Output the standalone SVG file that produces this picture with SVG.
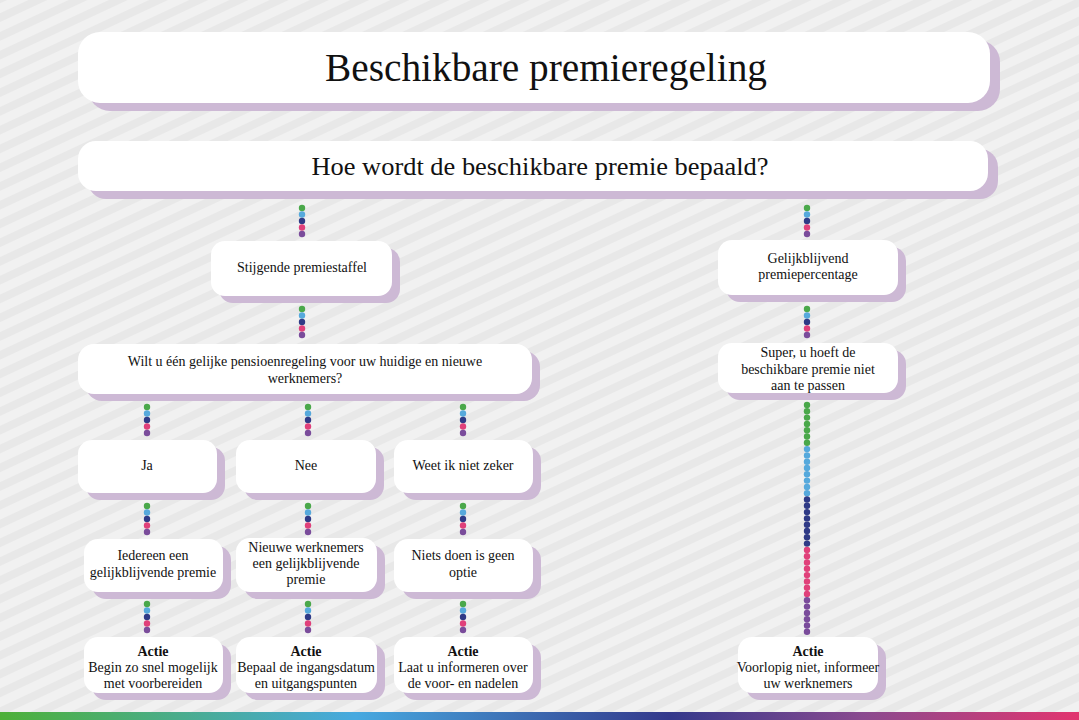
<svg xmlns="http://www.w3.org/2000/svg" width="1079" height="720" viewBox="0 0 1079 720">
<defs>
<pattern id="stripes" patternUnits="userSpaceOnUse" width="17" height="17" patternTransform="rotate(-25)">
<rect width="17" height="17" fill="#e8e8e8"/>
<rect y="3" width="17" height="9" fill="#f1f1f1"/>
</pattern>
<linearGradient id="bar" x1="0" y1="0" x2="1" y2="0">
<stop offset="0" stop-color="#4db038"/>
<stop offset="0.33" stop-color="#47a9e0"/>
<stop offset="0.62" stop-color="#33388b"/>
<stop offset="0.8" stop-color="#8a4a8f"/>
<stop offset="1" stop-color="#e2356f"/>
</linearGradient>
</defs>
<style>
.sh{fill:#cdb9d5}
.bx{fill:#ffffff}
text{font-family:"Liberation Serif","Times New Roman",serif;fill:#111;text-anchor:middle}
.t{font-size:14px}
.b{font-weight:bold}
.g{fill:#4aa84a}.l{fill:#56a9dc}.n{fill:#2f3a86}.p{fill:#e0407a}.u{fill:#7a4c9b}
</style>
<rect width="1079" height="720" fill="url(#stripes)"/>
<rect x="0" y="712" width="1079" height="8" fill="url(#bar)"/>

<g id="connectors">
<g transform="translate(302,208)"><circle r="3.2" cy="0" class="g"/><circle r="3.2" cy="6.5" class="l"/><circle r="3.2" cy="13" class="n"/><circle r="3.2" cy="19.5" class="p"/><circle r="3.2" cy="26" class="u"/></g>
<g transform="translate(807,208)"><circle r="3.2" cy="0" class="g"/><circle r="3.2" cy="6.5" class="l"/><circle r="3.2" cy="13" class="n"/><circle r="3.2" cy="19.5" class="p"/><circle r="3.2" cy="26" class="u"/></g>
<g transform="translate(302,309)"><circle r="3.2" cy="0" class="g"/><circle r="3.2" cy="6.5" class="l"/><circle r="3.2" cy="13" class="n"/><circle r="3.2" cy="19.5" class="p"/><circle r="3.2" cy="26" class="u"/></g>
<g transform="translate(807,309)"><circle r="3.2" cy="0" class="g"/><circle r="3.2" cy="6.5" class="l"/><circle r="3.2" cy="13" class="n"/><circle r="3.2" cy="19.5" class="p"/><circle r="3.2" cy="26" class="u"/></g>
<g transform="translate(147,407)"><circle r="3.2" cy="0" class="g"/><circle r="3.2" cy="6.5" class="l"/><circle r="3.2" cy="13" class="n"/><circle r="3.2" cy="19.5" class="p"/><circle r="3.2" cy="26" class="u"/></g>
<g transform="translate(308,407)"><circle r="3.2" cy="0" class="g"/><circle r="3.2" cy="6.5" class="l"/><circle r="3.2" cy="13" class="n"/><circle r="3.2" cy="19.5" class="p"/><circle r="3.2" cy="26" class="u"/></g>
<g transform="translate(463,407)"><circle r="3.2" cy="0" class="g"/><circle r="3.2" cy="6.5" class="l"/><circle r="3.2" cy="13" class="n"/><circle r="3.2" cy="19.5" class="p"/><circle r="3.2" cy="26" class="u"/></g>
<g transform="translate(147,506)"><circle r="3.2" cy="0" class="g"/><circle r="3.2" cy="6.5" class="l"/><circle r="3.2" cy="13" class="n"/><circle r="3.2" cy="19.5" class="p"/><circle r="3.2" cy="26" class="u"/></g>
<g transform="translate(308,506)"><circle r="3.2" cy="0" class="g"/><circle r="3.2" cy="6.5" class="l"/><circle r="3.2" cy="13" class="n"/><circle r="3.2" cy="19.5" class="p"/><circle r="3.2" cy="26" class="u"/></g>
<g transform="translate(463,506)"><circle r="3.2" cy="0" class="g"/><circle r="3.2" cy="6.5" class="l"/><circle r="3.2" cy="13" class="n"/><circle r="3.2" cy="19.5" class="p"/><circle r="3.2" cy="26" class="u"/></g>
<g transform="translate(147,604)"><circle r="3.2" cy="0" class="g"/><circle r="3.2" cy="6.5" class="l"/><circle r="3.2" cy="13" class="n"/><circle r="3.2" cy="19.5" class="p"/><circle r="3.2" cy="26" class="u"/></g>
<g transform="translate(308,604)"><circle r="3.2" cy="0" class="g"/><circle r="3.2" cy="6.5" class="l"/><circle r="3.2" cy="13" class="n"/><circle r="3.2" cy="19.5" class="p"/><circle r="3.2" cy="26" class="u"/></g>
<g transform="translate(463,604)"><circle r="3.2" cy="0" class="g"/><circle r="3.2" cy="6.5" class="l"/><circle r="3.2" cy="13" class="n"/><circle r="3.2" cy="19.5" class="p"/><circle r="3.2" cy="26" class="u"/></g>
<g transform="translate(807,405)">
<circle r="3.2" cy="0" class="g"/><circle r="3.2" cy="6.3" class="g"/><circle r="3.2" cy="12.6" class="g"/><circle r="3.2" cy="18.9" class="g"/><circle r="3.2" cy="25.2" class="g"/><circle r="3.2" cy="31.5" class="g"/><circle r="3.2" cy="37.8" class="g"/>
<circle r="3.2" cy="44.1" class="l"/><circle r="3.2" cy="50.4" class="l"/><circle r="3.2" cy="56.7" class="l"/><circle r="3.2" cy="63" class="l"/><circle r="3.2" cy="69.3" class="l"/><circle r="3.2" cy="75.6" class="l"/><circle r="3.2" cy="81.9" class="l"/><circle r="3.2" cy="88.2" class="l"/>
<circle r="3.2" cy="94.5" class="n"/><circle r="3.2" cy="100.8" class="n"/><circle r="3.2" cy="107.1" class="n"/><circle r="3.2" cy="113.4" class="n"/><circle r="3.2" cy="119.7" class="n"/><circle r="3.2" cy="126" class="n"/><circle r="3.2" cy="132.3" class="n"/><circle r="3.2" cy="138.6" class="n"/>
<circle r="3.2" cy="144.9" class="p"/><circle r="3.2" cy="151.2" class="p"/><circle r="3.2" cy="157.5" class="p"/><circle r="3.2" cy="163.8" class="p"/><circle r="3.2" cy="170.1" class="p"/><circle r="3.2" cy="176.4" class="p"/><circle r="3.2" cy="182.7" class="p"/><circle r="3.2" cy="189" class="p"/>
<circle r="3.2" cy="195.3" class="u"/><circle r="3.2" cy="201.6" class="u"/><circle r="3.2" cy="207.9" class="u"/><circle r="3.2" cy="214.2" class="u"/><circle r="3.2" cy="220.5" class="u"/><circle r="3.2" cy="226.8" class="u"/>
</g>
</g>

<g id="title"><rect class="sh" x="88" y="40" width="912" height="71" rx="22"/><rect class="bx" x="78" y="32" width="912" height="71" rx="22"/><text x="546" y="81" style="font-size:40px" textLength="442" lengthAdjust="spacingAndGlyphs">Beschikbare premieregeling</text></g>
<g id="question"><rect class="sh" x="88" y="149" width="910" height="50" rx="18"/><rect class="bx" x="78" y="141" width="910" height="50" rx="18"/><text x="540" y="175" style="font-size:25px" textLength="457" lengthAdjust="spacingAndGlyphs">Hoe wordt de beschikbare premie bepaald?</text></g>
<g id="stijgende"><rect class="sh" x="219" y="248" width="181" height="55" rx="14"/><rect class="bx" x="211" y="241" width="181" height="55" rx="14"/><text class="t" x="302" y="272">Stijgende premiestaffel</text></g>
<g id="gelijkblijvend"><rect class="sh" x="726" y="247" width="180" height="55" rx="14"/><rect class="bx" x="718" y="240" width="180" height="55" rx="14"/><text class="t" x="808" y="263">Gelijkblijvend</text><text class="t" x="808" y="279">premiepercentage</text></g>
<g id="wilt"><rect class="sh" x="86" y="351" width="454" height="50" rx="16"/><rect class="bx" x="78" y="344" width="454" height="50" rx="16"/><text class="t" x="305" y="366">Wilt u één gelijke pensioenregeling voor uw huidige en nieuwe</text><text class="t" x="305" y="383">werknemers?</text></g>
<g id="super"><rect class="sh" x="726" y="350" width="180" height="50" rx="14"/><rect class="bx" x="718" y="343" width="180" height="50" rx="14"/><text class="t" x="808" y="357">Super, u hoeft de</text><text class="t" x="808" y="374">beschikbare premie niet</text><text class="t" x="808" y="390">aan te passen</text></g>
<g id="ja"><rect class="sh" x="86" y="447" width="139" height="53" rx="14"/><rect class="bx" x="78" y="440" width="139" height="53" rx="14"/><text class="t" x="147" y="470">Ja</text></g>
<g id="nee"><rect class="sh" x="244" y="447" width="140" height="53" rx="14"/><rect class="bx" x="236" y="440" width="140" height="53" rx="14"/><text class="t" x="306" y="470">Nee</text></g>
<g id="weet"><rect class="sh" x="402" y="447" width="139" height="53" rx="14"/><rect class="bx" x="394" y="440" width="139" height="53" rx="14"/><text class="t" x="463" y="470">Weet ik niet zeker</text></g>
<g id="iedereen"><rect class="sh" x="92" y="546" width="139" height="53" rx="14"/><rect class="bx" x="84" y="539" width="139" height="53" rx="14"/><text class="t" x="153" y="560">Iedereen een</text><text class="t" x="153" y="577">gelijkblijvende premie</text></g>
<g id="nieuwe"><rect class="sh" x="244" y="545" width="141" height="54" rx="14"/><rect class="bx" x="236" y="538" width="141" height="54" rx="14"/><text class="t" x="306" y="552">Nieuwe werknemers</text><text class="t" x="306" y="568">een gelijkblijvende</text><text class="t" x="306" y="584">premie</text></g>
<g id="niets"><rect class="sh" x="402" y="546" width="139" height="53" rx="14"/><rect class="bx" x="394" y="539" width="139" height="53" rx="14"/><text class="t" x="463" y="560">Niets doen is geen</text><text class="t" x="463" y="577">optie</text></g>
<g id="actie1"><rect class="sh" x="92" y="644" width="139" height="56" rx="14"/><rect class="bx" x="84" y="637" width="139" height="56" rx="14"/><text class="t b" x="153" y="656">Actie</text><text class="t" x="153" y="672">Begin zo snel mogelijk</text><text class="t" x="153" y="688">met voorbereiden</text></g>
<g id="actie2"><rect class="sh" x="244" y="644" width="141" height="56" rx="14"/><rect class="bx" x="236" y="637" width="141" height="56" rx="14"/><text class="t b" x="306" y="656">Actie</text><text class="t" x="306" y="672">Bepaal de ingangsdatum</text><text class="t" x="306" y="688">en uitgangspunten</text></g>
<g id="actie3"><rect class="sh" x="402" y="644" width="139" height="56" rx="14"/><rect class="bx" x="394" y="637" width="139" height="56" rx="14"/><text class="t b" x="463" y="656">Actie</text><text class="t" x="463" y="672">Laat u informeren over</text><text class="t" x="463" y="688">de voor- en nadelen</text></g>
<g id="actie4"><rect class="sh" x="746" y="644" width="140" height="56" rx="14"/><rect class="bx" x="738" y="637" width="140" height="56" rx="14"/><text class="t b" x="808" y="656">Actie</text><text class="t" x="808" y="672">Voorlopig niet, informeer</text><text class="t" x="808" y="688">uw werknemers</text></g>
</svg>
